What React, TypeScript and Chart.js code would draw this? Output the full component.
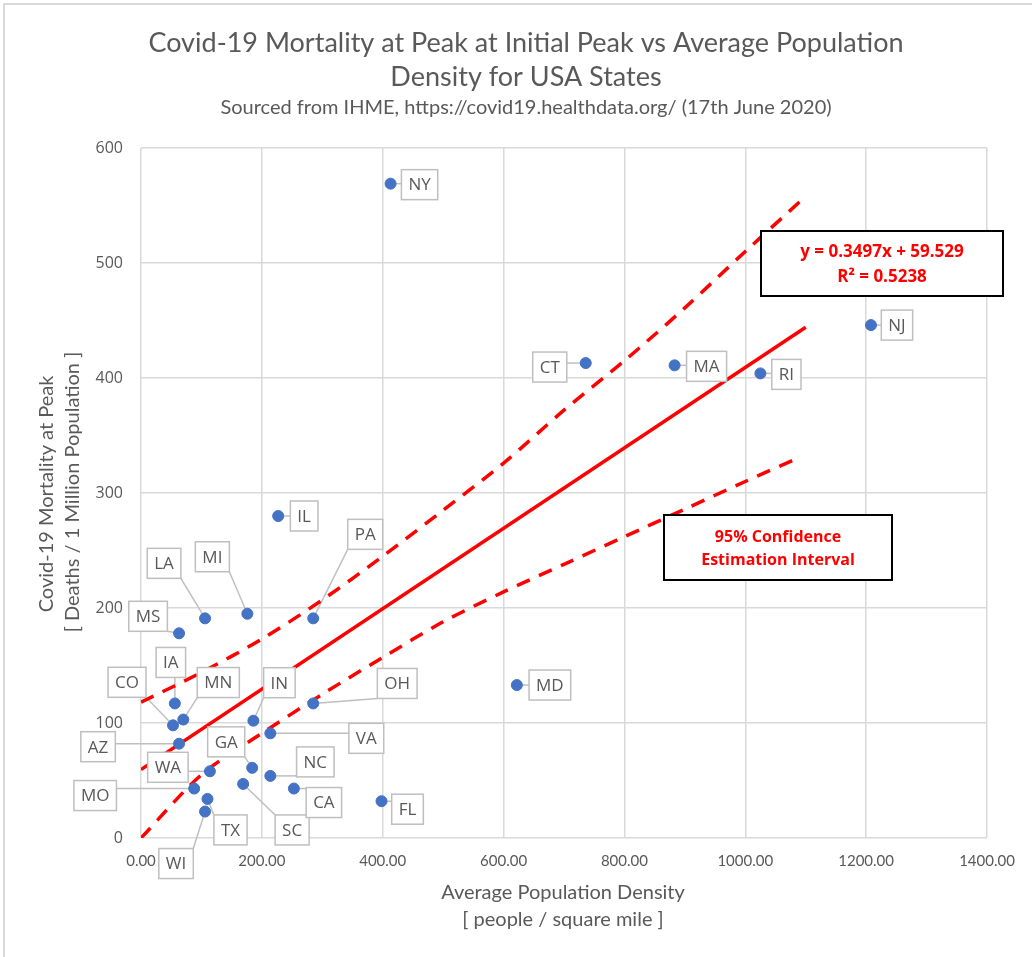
import React, { useEffect, useRef } from "react";
import { Chart, registerables } from "chart.js";

Chart.register(...registerables);

// ---- Data ----
const states = ["NY", "NJ", "CT", "MA", "RI", "IL", "PA", "MI", "LA", "MS", "MD", "IA", "CO", "MN", "AZ", "IN", "OH", "VA", "GA", "WA", "NC", "MO", "SC", "CA", "TX", "FL", "WI"];
const density = [413, 1208, 736, 883, 1025, 227, 285, 176, 106, 63, 622, 56, 53, 70, 63, 186, 285, 214, 184, 114, 214, 88, 169, 253, 110, 398, 106];
const mortality = [569, 446, 413, 411, 404, 280, 191, 195, 191, 178, 133, 117, 98, 103, 82, 102, 117, 91, 61, 58, 54, 43, 47, 43, 34, 32, 23];

const trendX = [0, 1100];
const trendY = [59.5, 444.2];

const upperX = [0, 100, 200, 300, 400, 500, 600, 700, 800, 900, 1000, 1100];
const upperY = [118, 144, 173, 207, 245, 285, 326, 372, 415, 461, 510, 558];

const lowerX = [0, 100, 200, 300, 400, 500, 600, 700, 800, 900, 1000, 1090];
const lowerY = [0, 55, 91, 125, 157, 188, 214, 238, 262, 286, 310, 331];

const xTicks = [0, 200, 400, 600, 800, 1000, 1200, 1400];
const yTicks = [0, 100, 200, 300, 400, 500, 600];

const titleLines = ["Covid-19 Mortality at Peak at Initial Peak vs Average Population", "Density for USA States"];
const subtitle = "Sourced from IHME, https://covid19.healthdata.org/ (17th June 2020)";
const xTitle = ["Average Population Density", "[ people / square mile ]"];
const yTitle = ["Covid-19 Mortality at Peak", "[ Deaths / 1 Million Population ]"];
const equationText = ["y = 0.3497x + 59.529", "R\u00B2 = 0.5238"];
const intervalText = ["95% Confidence", "Estimation Interval"];

// ---- Label placement (pixel offsets of label centre from its point) ----
const labelOffsets: Record<string, [number, number]> = {
  NY: [29, 1], NJ: [26, 0], CT: [-36, 4], MA: [32, 1], RI: [26, 1],
  IL: [26, 0], PA: [52, -84], MI: [-35, -57], LA: [-41, -55], MS: [-31, -17],
  MD: [33, 0], IA: [-4, -41], CO: [-46, -43], MN: [35, -37], AZ: [-81, 3],
  IN: [26, -38], OH: [84, -20], VA: [96, 5], GA: [-26, -26], WA: [-42, -4],
  NC: [45, -14], MO: [-99, 7], SC: [49, 46], CA: [30, 14], TX: [23, 31],
  FL: [26, 8], WI: [-29, 52],
};

const GRAY_TEXT = "#595959";
const RED = "#FF0000";
const LABEL_FONT = "17px 'Open Sans'";

function labelBox(ctx: CanvasRenderingContext2D, s: string, px: number, py: number) {
  const [dx, dy] = labelOffsets[s] || [20, 0];
  const w = ctx.measureText(s).width + 14;
  const h = 30;
  const cx = px + dx;
  const cy = py + dy;
  return { l: cx - w / 2, t: cy - h / 2, w, h, cx, cy };
}

const decorPlugin = {
  id: "decor",
  beforeDraw(chart: any) {
    const ctx = chart.ctx as CanvasRenderingContext2D;
    ctx.save();
    ctx.fillStyle = "#ffffff";
    ctx.fillRect(0, 0, chart.width, chart.height);
    ctx.strokeStyle = "#d9d9d9";
    ctx.lineWidth = 2;
    ctx.beginPath();
    ctx.moveTo(4, chart.height);
    ctx.lineTo(4, 4);
    ctx.lineTo(chart.width, 4);
    ctx.stroke();
    ctx.restore();
  },
  beforeDatasetsDraw(chart: any) {
    const ctx = chart.ctx as CanvasRenderingContext2D;
    const xs = chart.scales.x;
    const ys = chart.scales.y;
    ctx.save();
    ctx.font = LABEL_FONT;
    ctx.strokeStyle = "#bfbfbf";
    ctx.lineWidth = 1.5;
    states.forEach((s, i) => {
      const px = xs.getPixelForValue(density[i]);
      const py = ys.getPixelForValue(mortality[i]);
      const b = labelBox(ctx, s, px, py);
      const nx = Math.min(Math.max(px, b.l), b.l + b.w);
      const ny = Math.min(Math.max(py, b.t), b.t + b.h);
      ctx.beginPath();
      ctx.moveTo(px, py);
      ctx.lineTo(nx, ny);
      ctx.stroke();
    });
    ctx.restore();
  },
  afterDatasetsDraw(chart: any) {
    const ctx = chart.ctx as CanvasRenderingContext2D;
    const xs = chart.scales.x;
    const ys = chart.scales.y;
    ctx.save();
    ctx.font = LABEL_FONT;
    ctx.textAlign = "center";
    ctx.textBaseline = "middle";
    states.forEach((s, i) => {
      const px = xs.getPixelForValue(density[i]);
      const py = ys.getPixelForValue(mortality[i]);
      const b = labelBox(ctx, s, px, py);
      ctx.fillStyle = "#ffffff";
      ctx.fillRect(b.l, b.t, b.w, b.h);
      ctx.strokeStyle = "#bfbfbf";
      ctx.lineWidth = 1.5;
      ctx.strokeRect(b.l, b.t, b.w, b.h);
      ctx.fillStyle = GRAY_TEXT;
      ctx.fillText(s, b.cx, b.cy + 1);
    });

    const drawBox = (l: number, t: number, r: number, btm: number, lines: string[], ys2: number[], font: string) => {
      ctx.fillStyle = "#ffffff";
      ctx.fillRect(l, t, r - l, btm - t);
      ctx.strokeStyle = "#000000";
      ctx.lineWidth = 2;
      ctx.strokeRect(l, t, r - l, btm - t);
      ctx.fillStyle = RED;
      ctx.font = font;
      lines.forEach((ln, k) => ctx.fillText(ln, (l + r) / 2, ys2[k]));
    };
    drawBox(761, 231, 1003, 296, equationText, [252, 277], "bold 17px 'Open Sans'");
    drawBox(664, 515, 892, 580, intervalText, [537, 560], "bold 16px 'Open Sans'");
    ctx.restore();
  },
  afterDraw(chart: any) {
    const ctx = chart.ctx as CanvasRenderingContext2D;
    ctx.save();
    ctx.fillStyle = GRAY_TEXT;
    ctx.textAlign = "center";
    ctx.textBaseline = "middle";
    ctx.font = "27px Lato";
    ctx.fillText(titleLines[0], 526, 43);
    ctx.fillText(titleLines[1], 526, 77);
    ctx.font = "20px Lato";
    ctx.fillText(subtitle, 526, 108);
    ctx.font = "20px Lato";
    ctx.fillText(xTitle[0], 563, 893);
    ctx.fillText(xTitle[1], 563, 920);
    ctx.save();
    ctx.translate(47, 494);
    ctx.rotate(-Math.PI / 2);
    ctx.fillText(yTitle[0], 0, 0);
    ctx.restore();
    ctx.save();
    ctx.translate(73, 492);
    ctx.rotate(-Math.PI / 2);
    ctx.fillText(yTitle[1], 0, 0);
    ctx.restore();
    ctx.restore();
  },
};

export default function App() {
  const canvasRef = useRef<HTMLCanvasElement | null>(null);

  useEffect(() => {
    if (!canvasRef.current) return;
    const points = states.map((_, i) => ({ x: density[i], y: mortality[i] }));
    const trend = trendX.map((x, i) => ({ x, y: trendY[i] }));
    const upper = upperX.map((x, i) => ({ x, y: upperY[i] }));
    const lower = lowerX.map((x, i) => ({ x, y: lowerY[i] }));

    const chart = new Chart(canvasRef.current, {
      type: "scatter",
      data: {
        datasets: [
          {
            type: "scatter",
            label: "States",
            data: points,
            backgroundColor: "#4472C4",
            borderColor: "#4472C4",
            pointRadius: 5.5,
            order: 0,
          },
          {
            type: "line",
            label: "Trend",
            data: trend,
            borderColor: RED,
            borderWidth: 3.5,
            pointRadius: 0,
            fill: false,
            order: 1,
          },
          {
            type: "line",
            label: "Upper",
            data: upper,
            borderColor: RED,
            borderWidth: 3.5,
            borderDash: [14, 10],
            pointRadius: 0,
            fill: false,
            tension: 0.3,
            order: 2,
          },
          {
            type: "line",
            label: "Lower",
            data: lower,
            borderColor: RED,
            borderWidth: 3.5,
            borderDash: [14, 10],
            pointRadius: 0,
            fill: false,
            tension: 0.3,
            order: 3,
          },
        ] as any,
      },
      options: {
        animation: false,
        responsive: false,
        layout: { padding: { left: 0, right: 45, top: 148, bottom: 0 } },
        plugins: {
          legend: { display: false },
          title: { display: false },
          tooltip: { enabled: false },
        },
        scales: {
          x: {
            type: "linear",
            min: 0,
            max: 1400,
            afterBuildTicks: (s: any) => {
              s.ticks = xTicks.map((v) => ({ value: v }));
            },
            ticks: {
              callback: (v: any) => Number(v).toFixed(2),
              color: GRAY_TEXT,
              font: { family: "Lato", size: 15 },
              padding: 14,
              maxRotation: 0,
              autoSkip: false,
            },
            grid: { color: "#d9d9d9", lineWidth: 1.5, drawTicks: false },
            border: { display: false },
            afterFit: (s: any) => {
              s.height = 119;
            },
          },
          y: {
            type: "linear",
            min: 0,
            max: 600,
            afterBuildTicks: (s: any) => {
              s.ticks = yTicks.map((v) => ({ value: v }));
            },
            ticks: {
              color: GRAY_TEXT,
              font: { family: "'Open Sans'", size: 16 },
              padding: 18,
              autoSkip: false,
            },
            grid: { color: "#d9d9d9", lineWidth: 1.5, drawTicks: false },
            border: { display: false },
            afterFit: (s: any) => {
              s.width = 141;
            },
          },
        },
      } as any,
      plugins: [decorPlugin as any],
    });
    return () => chart.destroy();
  }, []);

  return (
    <div style={{ position: "absolute", left: 0, top: 0, width: 1032, height: 957, background: "#fff" }}>
      <canvas ref={canvasRef} width={1032} height={957} style={{ display: "block", width: 1032, height: 957 }} />
    </div>
  );
}
